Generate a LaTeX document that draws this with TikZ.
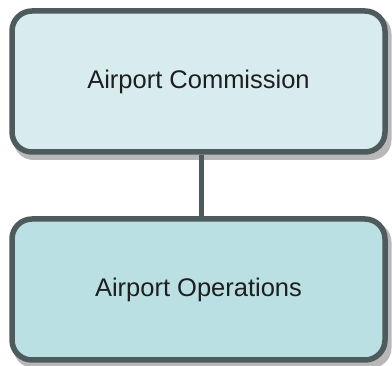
\documentclass[tikz,border=0pt]{standalone}
\usepackage{fontspec}
\setmainfont{Liberation Sans}
\begin{document}
\begin{tikzpicture}[x=1pt,y=1pt,
  orgbox/.style={draw=borderc, line width=5.5pt, rounded corners=20pt,
    minimum width=373pt, minimum height=141pt, inner sep=0pt,
    font=\fontsize{25.5}{30}\selectfont, text=textc},
  shadowbox/.style={fill=shadowc, rounded corners=20pt,
    minimum width=378pt, minimum height=146pt, inner sep=0pt},
  link/.style={draw=borderc, line width=5pt}]
\definecolor{borderc}{HTML}{4E5B5D}
\definecolor{topc}{HTML}{D8ECF0}
\definecolor{botc}{HTML}{BBE0E3}
\definecolor{shadowc}{HTML}{B8B8B8}
\definecolor{textc}{HTML}{1E1E1E}
\useasboundingbox (0,0) rectangle (392,366);
\node[shadowbox] (s1) at (202.5,366-87) {};
\node[shadowbox] (s2) at (202.5,366-295) {};
\node[orgbox, fill=topc] (a) at (198.5,366-81.5) {Airport Commission};
\node[orgbox, fill=botc] (b) at (198.5,366-289.5) {Airport Operations};
\draw[link] (a.south -| 201,0) -- (b.north -| 201,0);
\end{tikzpicture}
\end{document}
